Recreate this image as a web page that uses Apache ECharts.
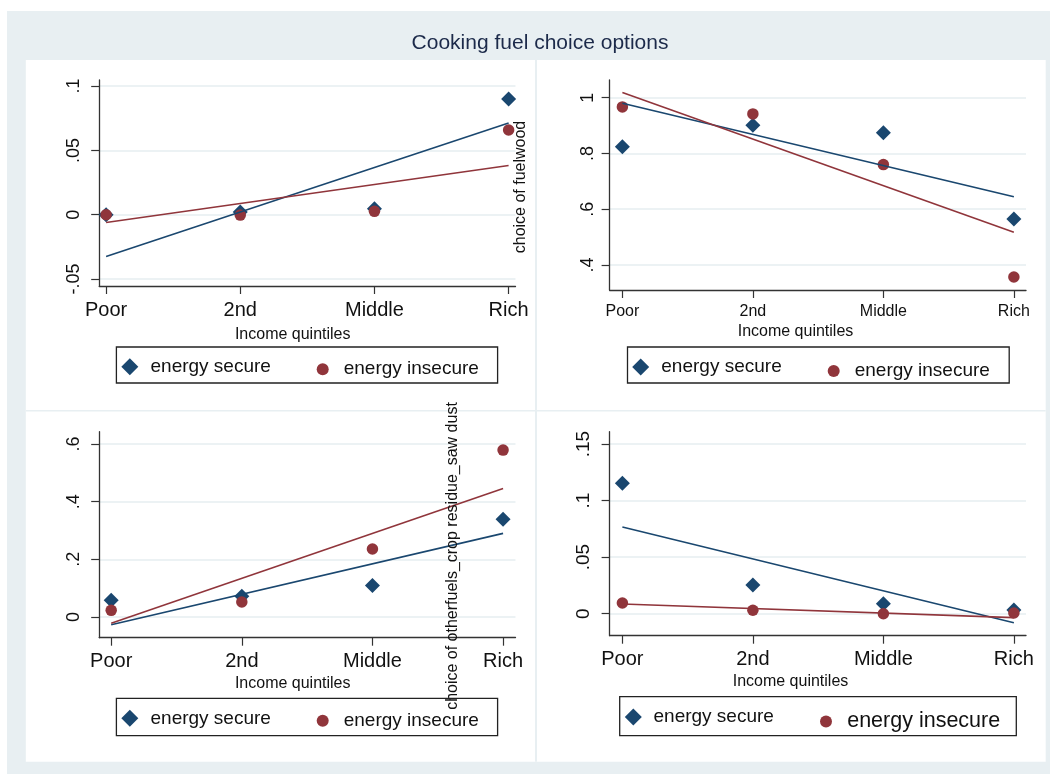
<!DOCTYPE html>
<html><head><meta charset="utf-8">
<script src="https://cdn.jsdelivr.net/npm/echarts@6/dist/echarts.min.js"></script>
<style>html,body{margin:0;padding:0;background:#fff}#c{width:1050px;height:774px}</style>
</head><body><div id="c"></div>
<script>
// ---------- data ----------
const categories = ['Poor', '2nd', 'Middle', 'Rich'];
const nameSecure = 'energy secure';
const nameInsecure = 'energy insecure';
const mainTitle = 'Cooking fuel choice options';
const xTitle = 'Income quintiles';
const yTitleFuelwood = 'choice of fuelwood';
const yTitleOther = 'choice of otherfuels_crop residue_saw dust';

// panel 1 (top-left)
const p1Secure = [0, 0.0021, 0.0047, 0.0899];
const p1Insecure = [0, -0.0003, 0.0026, 0.0658];
const p1FitSecure = [-0.0324, 0.0713];      // fitted value at Poor, Rich
const p1FitInsecure = [-0.006, 0.0383];
const p1Ticks = [-0.05, 0, 0.05, 0.1];

// panel 2 (top-right) - fuelwood
const p2Secure = [0.824, 0.901, 0.874, 0.565];
const p2Insecure = [0.967, 0.942, 0.760, 0.357];
const p2FitSecure = [0.980, 0.645];
const p2FitInsecure = [1.019, 0.517];
const p2Ticks = [0.4, 0.6, 0.8, 1];

// panel 3 (bottom-left)
const p3Secure = [0.058, 0.072, 0.109, 0.339];
const p3Insecure = [0.023, 0.052, 0.236, 0.579];
const p3FitSecure = [-0.027, 0.290];
const p3FitInsecure = [-0.022, 0.446];
const p3Ticks = [0, 0.2, 0.4, 0.6];

// panel 4 (bottom-right)
const p4Secure = [0.1153, 0.0254, 0.0088, 0.0033];
const p4Insecure = [0.0095, 0.003, 0.0, 0.0006];
const p4FitSecure = [0.0766, -0.008];
const p4FitInsecure = [0.0086, -0.0035];
const p4Ticks = [0, 0.05, 0.1, 0.15];

// ---------- style / layout ----------
const NAVY = '#1a476f', MAROON = '#90353b', BG = '#e8eff2', GRID = '#e6eef1';
const FONT = '"Liberation Sans", Arial, Helvetica, sans-serif';
const TXT = '#111';
const DIAMOND_ICON = 'path://M0,-1L1,0L0,1L-1,0Z';

const panels = [
  {sec:p1Secure, ins:p1Insecure, fs:p1FitSecure, fi:p1FitInsecure, ticks:p1Ticks,
   grid:{left:99.2, right:534.5, top:80, bottom:488}, xMin:-0.0514, xMax:3.0514, yMin:-0.0554, yMax:0.1047,
   xFont:20, yFont:18, xMargin:14, yMargin:16},
  {sec:p2Secure, ins:p2Insecure, fs:p2FitSecure, fi:p2FitInsecure, ticks:p2Ticks,
   grid:{left:609.6, right:24, top:80, bottom:484}, xMin:-0.098, xMax:3.093, yMin:0.3103, yMax:1.0635,
   xFont:16, yFont:18, xMargin:14, yMargin:13},
  {sec:p3Secure, ins:p3Insecure, fs:p3FitSecure, fi:p3FitInsecure, ticks:p3Ticks,
   grid:{left:99.2, right:534.5, top:431.7, bottom:136.3}, xMin:-0.0919, xMax:3.095, yMin:-0.0718, yMax:0.6427,
   xFont:20, yFont:18, xMargin:14, yMargin:16},
  {sec:p4Secure, ins:p4Insecure, fs:p4FitSecure, fi:p4FitInsecure, ticks:p4Ticks,
   grid:{left:609.6, right:24, top:431.7, bottom:138.3}, xMin:-0.098, xMax:3.093, yMin:-0.01945, yMax:0.1609,
   xFont:20, yFont:19, xMargin:13.3, yMargin:16}
];

function fmtY(v) {
  if (Math.abs(v) < 1e-12) return '0';
  return String(+v.toFixed(4)).replace('0.', '.');
}
const catIdx = categories.map((c, i) => i);

const grids = [], xAxes = [], yAxes = [], series = [];
panels.forEach((p, k) => {
  grids.push(Object.assign({containLabel:false}, p.grid));
  xAxes.push({
    type:'value', gridIndex:k, min:p.xMin, max:p.xMax,
    axisLine:{show:true, onZero:false, lineStyle:{color:'#333', width:1.3}},
    axisTick:{show:true, length:8, customValues:catIdx, lineStyle:{color:'#333', width:1.2}},
    axisLabel:{customValues:catIdx, formatter:v => categories[Math.round(v)], fontSize:p.xFont,
               color:TXT, fontFamily:FONT, margin:p.xMargin},
    splitLine:{show:false}
  });
  yAxes.push({
    type:'value', gridIndex:k, min:p.yMin, max:p.yMax,
    axisLine:{show:true, onZero:false, lineStyle:{color:'#333', width:1.3}},
    axisTick:{show:true, length:8, customValues:p.ticks, lineStyle:{color:'#333', width:1.2}},
    axisLabel:{customValues:p.ticks, formatter:fmtY, rotate:90, fontSize:p.yFont,
               color:TXT, fontFamily:FONT, margin:p.yMargin},
    splitLine:{show:true, lineStyle:{color:GRID, width:1.5}}
  });
  series.push({
    type:'scatter', name:nameSecure, xAxisIndex:k, yAxisIndex:k, symbol:'diamond', symbolSize:15,
    itemStyle:{color:NAVY, opacity:1}, data:p.sec.map((v, i) => [i, v]), z:2
  });
  series.push({
    type:'scatter', name:nameInsecure, xAxisIndex:k, yAxisIndex:k, symbol:'circle', symbolSize:11.5,
    itemStyle:{color:MAROON, opacity:1}, data:p.ins.map((v, i) => [i, v]), z:2
  });
  series.push({
    type:'line', name:'fit secure', xAxisIndex:k, yAxisIndex:k, showSymbol:false, symbol:'none',
    lineStyle:{color:NAVY, width:1.6}, data:[[0, p.fs[0]], [categories.length - 1, p.fs[1]]], z:3, silent:true
  });
  series.push({
    type:'line', name:'fit insecure', xAxisIndex:k, yAxisIndex:k, showSymbol:false, symbol:'none',
    lineStyle:{color:MAROON, width:1.6}, data:[[0, p.fi[0]], [categories.length - 1, p.fi[1]]], z:3, silent:true
  });
});

// legend placed by icon centre (cx, cy) and text start x (tx); size = icon size
function leg(name, icon, cx, cy, tx, size, fs) {
  const w = 2 * (tx - 5 - cx);           // item box width so that text starts at tx
  return {data:[{name:name, icon:icon}], left:cx - size / 2, top:cy - size / 2,
          itemWidth:w, itemHeight:size, symbolKeepAspect:true, padding:0, selectedMode:false,
          orient:'horizontal', textStyle:{fontSize:fs, color:TXT, fontFamily:FONT}};
}
const legends = [
  leg(nameSecure, DIAMOND_ICON, 129.8, 365.7, 150.5, 17, 19), leg(nameInsecure, 'circle', 322.7, 365.7, 343.7, 12, 19),
  leg(nameSecure, DIAMOND_ICON, 640.7, 366, 661.3, 17, 19),   leg(nameInsecure, 'circle', 833.7, 367.5, 854.7, 12, 19),
  leg(nameSecure, DIAMOND_ICON, 129.8, 717.3, 150.5, 17, 19), leg(nameInsecure, 'circle', 322.7, 717.3, 343.7, 12, 19),
  leg(nameSecure, DIAMOND_ICON, 633.3, 716, 653.5, 17, 19),   leg(nameInsecure, 'circle', 826, 716.5, 847.2, 12, 21.5)
];

function txt(s, x, y, size, color, rot) {
  return {type:'text', x:x, y:y, rotation:rot || 0, z:10,
          style:{text:s, fill:color, font:size + 'px ' + FONT,
                 align:'center', verticalAlign:'middle', textAlign:'center', textVerticalAlign:'middle'}};
}
function box(x, y, w, h) {
  return {type:'rect', shape:{x:x, y:y, width:w, height:h}, z:10,
          style:{fill:'none', stroke:'#222', lineWidth:1.3}};
}
const graphics = [
  {type:'rect', shape:{x:7, y:11, width:1043, height:763}, style:{fill:BG}, z:-20},
  {type:'rect', shape:{x:25.8, y:60, width:1019.9, height:701.7}, style:{fill:'#fff'}, z:-19},
  {type:'rect', shape:{x:535, y:60, width:2, height:701.7}, style:{fill:BG}, z:-18},
  {type:'rect', shape:{x:25.8, y:410, width:1019.9, height:1.5}, style:{fill:BG}, z:-18},
  txt(mainTitle, 540, 43, 21, '#1c2a4a'),
  txt(xTitle, 292.7, 334.5, 16, TXT),
  txt(xTitle, 795.5, 332, 16, TXT),
  txt(xTitle, 292.7, 683.5, 16, TXT),
  txt(xTitle, 790.5, 681.5, 16, TXT),
  txt(yTitleFuelwood, 521, 187, 16, TXT, Math.PI / 2),
  txt(yTitleOther, 453, 556, 16, TXT, Math.PI / 2),
  box(116.4, 347, 381.2, 36),
  box(627.5, 347, 381.7, 36),
  box(116.4, 698.3, 381.2, 37.4),
  box(619.7, 696.7, 396.6, 39)
];

const chart = echarts.init(document.getElementById('c'), null, {renderer:'canvas'});
chart.setOption({
  backgroundColor:'#fff',
  animation:false,
  grid:grids, xAxis:xAxes, yAxis:yAxes, series:series,
  legend:legends,
  graphic:{elements:graphics}
});
</script></body></html>
